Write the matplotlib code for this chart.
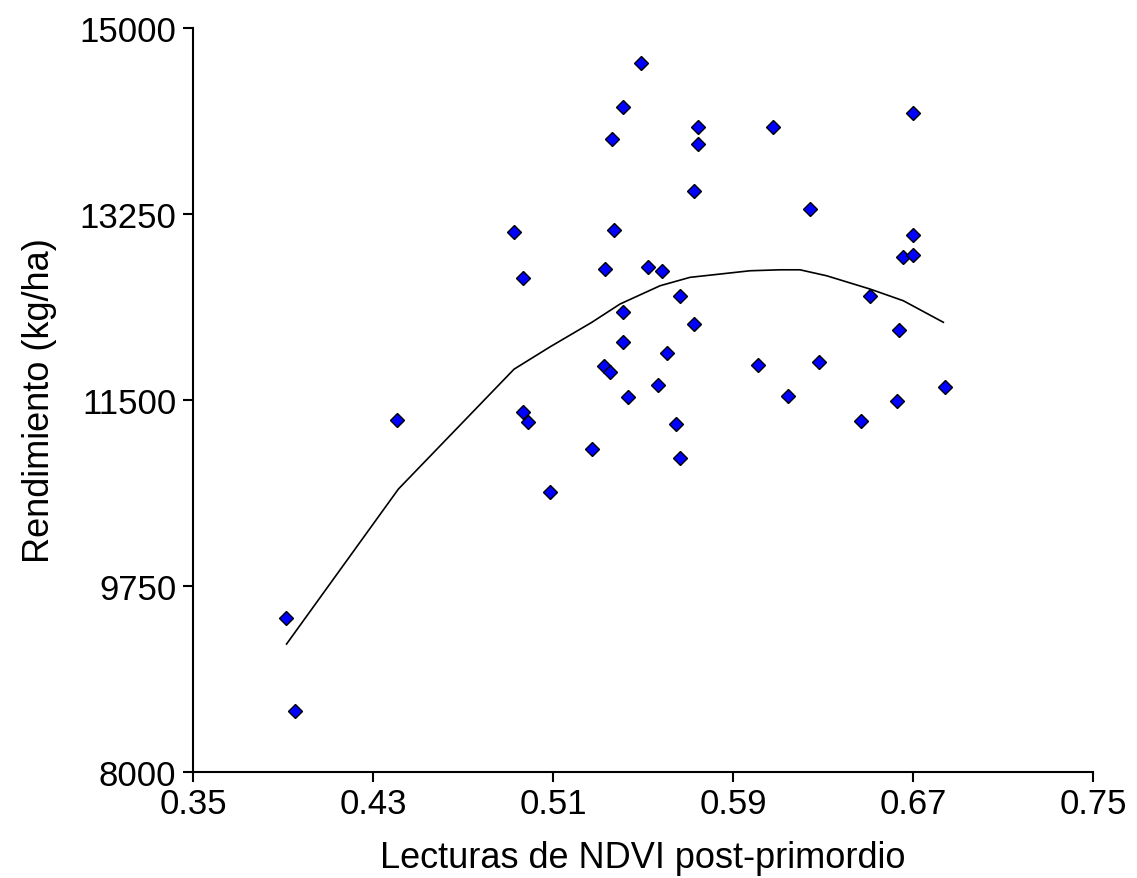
import matplotlib
matplotlib.use("Agg")
import matplotlib.pyplot as plt

plt.rcParams['font.family'] = ['Liberation Sans', 'DejaVu Sans']

# NDVI post-primordio readings and yield (kg/ha)
ndvi = [0.5493, 0.5413, 0.5362, 0.5746, 0.5746, 0.6079, 0.5727, 0.4927,
        0.5371, 0.4965, 0.5331, 0.5524, 0.5583, 0.5664, 0.5413, 0.5727,
        0.5413, 0.5605, 0.5328, 0.5353, 0.6010, 0.5565, 0.5432, 0.4965,
        0.4988, 0.5647, 0.5272, 0.5664, 0.5087, 0.6699, 0.6242, 0.6699,
        0.6657, 0.6701, 0.6509, 0.6639, 0.6283, 0.6143, 0.6627, 0.6842,
        0.6467, 0.4408, 0.3912, 0.3953]
rendimiento = [14667, 14253, 13955, 14065, 13908, 14065, 13463, 13077,
               13099, 12648, 12732, 12754, 12711, 12475, 12325, 12215,
               12042, 11939, 11820, 11760, 11832, 11641, 11531, 11384,
               11296, 11274, 11039, 10951, 10631, 14197, 13297, 13055,
               12842, 12866, 12475, 12158, 11854, 11535, 11487, 11619,
               11299, 11315, 9449, 8571]

# fitted trend line
trend_x = [0.3916, 0.4413, 0.4927, 0.4988, 0.5087, 0.5272, 0.5398, 0.5576,
           0.5709, 0.5976, 0.6109, 0.6198, 0.6316, 0.6509, 0.6657, 0.6835]
trend_y = [9204, 10662, 11790, 11870, 12000, 12230, 12403, 12575,
           12654, 12716, 12725, 12725, 12669, 12544, 12434, 12231]

xticks = [0.35, 0.43, 0.51, 0.59, 0.67, 0.75]
yticks = [8000, 9750, 11500, 13250, 15000]

fig = plt.figure(figsize=(11.37, 8.79), dpi=100)
ax = fig.add_axes([0.1697, 0.1206, 0.7916, 0.8464])

ax.plot(trend_x, trend_y, color='black', lw=1.2, zorder=2)
ax.plot(ndvi, rendimiento, linestyle='none', marker='D', ms=7.6,
        mfc='#0000ff', mec='black', mew=1.0, zorder=3)

ax.set_xlim(0.35, 0.75)
ax.set_ylim(8000, 15000)
ax.set_xticks(xticks)
ax.set_xticklabels([f'{t:.2f}' for t in xticks])
ax.set_yticks(yticks)
ax.set_yticklabels([str(t) for t in yticks])

for side in ('top', 'right'):
    ax.spines[side].set_visible(False)
for side in ('left', 'bottom'):
    ax.spines[side].set_linewidth(1.5)

ax.tick_params(direction='out', length=7, width=1.5, labelsize=25, pad=5)
ax.tick_params(axis='x', pad=4)

ax.set_xlabel('Lecturas de NDVI post-primordio', fontsize=26, labelpad=14)
ax.set_ylabel('Rendimiento (kg/ha)', fontsize=26, labelpad=16)

fig.savefig('out.png', dpi=100)
